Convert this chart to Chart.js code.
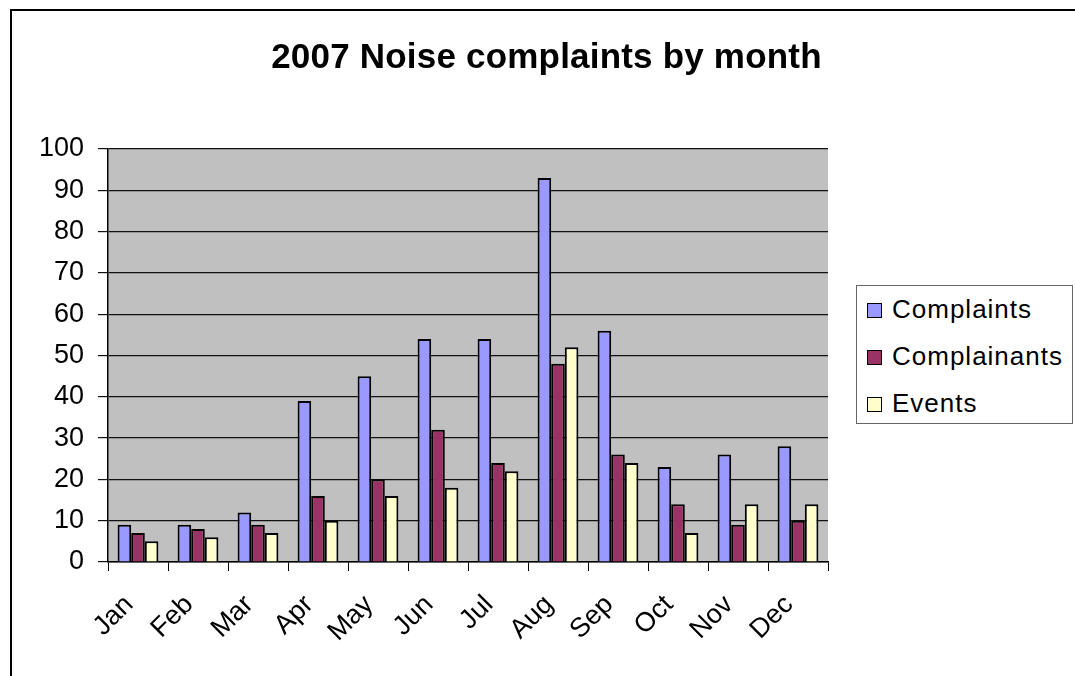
<!DOCTYPE html>
<html>
<head>
<meta charset="utf-8">
<script src="https://cdn.jsdelivr.net/npm/chart.js@4.4.0/dist/chart.umd.min.js"></script>
<style>
  body { margin: 0; background: #fff; font-family: "Liberation Sans", Arial, sans-serif; }
  #wrap { position: relative; width: 1075px; height: 676px; overflow: hidden; }
  #frame { position: absolute; left: 10px; top: 9px; width: 1200px; height: 800px; border: 2px solid #000; }
  #title { position: absolute; left: 18px; top: 38px; width: 1057px; text-align: center;
           font-size: 35px; font-weight: bold; line-height: 35px; color: #000; letter-spacing: 0.2px; }
  #legend { position: absolute; left: 856px; top: 285px; width: 217px; height: 139px;
            border: 1px solid #666; background: #fff; box-sizing: border-box; }
  .item { position: absolute; left: 10px; height: 30px; font-size: 26px; line-height: 30px; color: #000;
          white-space: nowrap; letter-spacing: 1px; }
  .item span.box { display: inline-block; width: 13px; height: 13px; border: 1.5px solid #000; margin-right: 10px;
                   vertical-align: middle; position: relative; top: -1px; }
  #c { position: absolute; left: 0; top: 0; }
</style>
</head>
<body>
<div id="wrap">
  <div id="frame"></div>
  <canvas id="c" width="1075" height="676"></canvas>
  <div id="title">2007 Noise complaints by month</div>
  <div id="legend"></div>
</div>
<script>
// data
var months = ["Jan", "Feb", "Mar", "Apr", "May", "Jun", "Jul", "Aug", "Sep", "Oct", "Nov", "Dec"];
var complaints   = [9, 9, 12, 39, 45, 54, 54, 93, 56, 23, 26, 28];
var complainants = [7, 8, 9, 16, 20, 32, 24, 48, 26, 14, 9, 10];
var events       = [5, 6, 7, 10, 16, 18, 22, 52, 24, 7, 14, 14];
var seriesNames  = ["Complaints", "Complainants", "Events"];
var seriesColors = ["#9999ff", "#993366", "#ffffcc"];

var font = "'Liberation Sans', Arial, sans-serif";

// gray plot area
var plotBg = {
  id: "plotBg",
  beforeDraw: function (chart) {
    var a = chart.chartArea, ctx = chart.ctx;
    ctx.save();
    ctx.fillStyle = "#c0c0c0";
    ctx.fillRect(a.left, a.top, a.right - a.left, a.bottom - a.top);
    ctx.restore();
  }
};

var values = [complaints, complainants, events];
var datasets = seriesNames.map(function (name, i) {
  return {
    label: name,
    data: values[i],
    backgroundColor: seriesColors[i],
    borderColor: "#000",
    borderWidth: 2,
    categoryPercentage: 0.68,
    barPercentage: 1.0
  };
});

var chart = new Chart(document.getElementById("c").getContext("2d"), {
  type: "bar",
  data: { labels: months, datasets: datasets },
  options: {
    responsive: false,
    animation: false,
    layout: { padding: { left: 0, top: 149, right: 247, bottom: 0 } },
    plugins: {
      legend: { display: false },
      title: { display: false },
      tooltip: { enabled: false }
    },
    scales: {
      x: {
        grid: { offset: true, drawOnChartArea: false, drawTicks: true, tickLength: 9, color: "#000" },
        border: { color: "#000", width: 1.5 },
        ticks: { color: "#000", font: { family: font, size: 27 }, minRotation: 45, maxRotation: 45,
                 padding: 18, labelOffset: -9 },
        afterFit: function (s) { s.height = 114; }
      },
      y: {
        min: 0, max: 100,
        ticks: { stepSize: 10, color: "#000", font: { family: font, size: 27 }, padding: 14 },
        grid: { color: "#111", lineWidth: 1.2, tickLength: 10 },
        border: { color: "#000", width: 1.5 },
        afterFit: function (s) { s.width = 108; }
      }
    }
  },
  plugins: [plotBg]
});

// legend built from the same series arrays
var lg = document.getElementById("legend");
var tops = [8, 55, 102];
seriesNames.forEach(function (name, i) {
  var d = document.createElement("div");
  d.className = "item";
  d.style.top = tops[i] + "px";
  d.innerHTML = '<span class="box" style="background:' + seriesColors[i] + '"></span>' + name;
  lg.appendChild(d);
});
</script>
</body>
</html>
